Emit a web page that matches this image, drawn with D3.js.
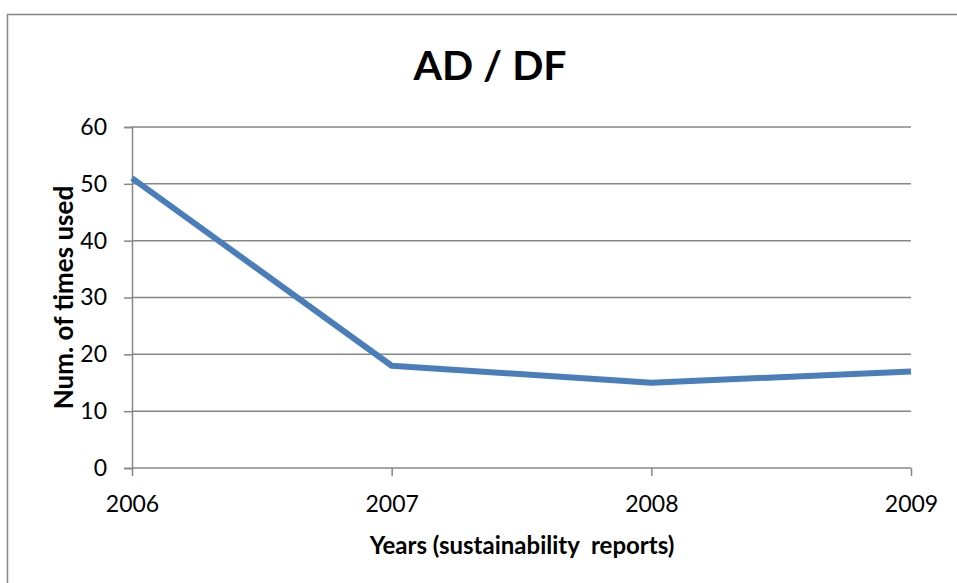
<!DOCTYPE html>
<html>
<head>
<meta charset="utf-8">
<script src="https://cdn.jsdelivr.net/npm/d3@7"></script>
<style>
  body { margin: 0; background: #fff; }
  svg { display: block; }
  svg text { font-family: Lato, "Open Sans", sans-serif; }
</style>
</head>
<body>
<div id="chart"></div>
<script>
// data
var years = [2006, 2007, 2008, 2009];
var timesUsed = [51, 18, 15, 17];
var yTicks = [0, 10, 20, 30, 40, 50, 60];

var W = 957, H = 583;
var margin = {top: 127, right: 46, bottom: 115, left: 132},
    width = W - margin.left - margin.right,
    height = H - margin.top - margin.bottom;

var svg = d3.select("#chart").append("svg")
    .attr("width", W)
    .attr("height", H);

// outer chart frame (cut off at right/bottom in the original)
svg.append("rect")
    .attr("x", 7.5).attr("y", 14.5)
    .attr("width", W + 10).attr("height", H + 10)
    .attr("fill", "none")
    .attr("stroke", "#868686")
    .attr("stroke-width", 1.5);

var g = svg.append("g")
    .attr("transform", "translate(" + margin.left + "," + margin.top + ")");

var x = d3.scalePoint().domain(years).range([0, width]);
var y = d3.scaleLinear().domain([0, 60]).range([height, 0]);

// gridlines
g.selectAll("line.grid")
    .data(yTicks.filter(function(d) { return d > 0; }))
    .enter().append("line")
    .attr("class", "grid")
    .attr("x1", 0).attr("x2", width)
    .attr("y1", function(d) { return y(d); })
    .attr("y2", function(d) { return y(d); })
    .attr("stroke", "#868686")
    .attr("stroke-width", 1.5);

// y axis
var yAxis = g.append("g")
    .call(d3.axisLeft(y).tickValues(yTicks).tickSize(8).tickPadding(17));
yAxis.select(".domain").attr("stroke", "#868686").attr("stroke-width", 1.5);
yAxis.selectAll(".tick line").attr("stroke", "#868686").attr("stroke-width", 1.5);
yAxis.selectAll("text").attr("font-size", 23).attr("fill", "#000");

// x axis
var xAxis = g.append("g")
    .attr("transform", "translate(0," + height + ")")
    .call(d3.axisBottom(x).tickSize(8).tickPadding(20).tickFormat(d3.format("d")));
xAxis.select(".domain").attr("stroke", "#868686").attr("stroke-width", 1.5)
    .attr("d", "M0,0H" + width);
xAxis.selectAll(".tick line").attr("stroke", "#868686").attr("stroke-width", 1.5);
xAxis.selectAll("text").attr("font-size", 23).attr("fill", "#000");

// series line
var line = d3.line()
    .x(function(d, i) { return x(years[i]); })
    .y(function(d) { return y(d); });

g.append("path")
    .datum(timesUsed)
    .attr("fill", "none")
    .attr("stroke", "#4a7ebb")
    .attr("stroke-width", 6)
    .attr("stroke-linejoin", "round")
    .attr("d", line);

// titles
svg.append("text")
    .attr("x", 490).attr("y", 80)
    .attr("text-anchor", "middle")
    .attr("font-size", 41).attr("font-weight", "bold")
    .text("AD / DF");

svg.append("text")
    .attr("transform", "translate(73," + (margin.top + height / 2) + ") rotate(-90)")
    .attr("text-anchor", "middle")
    .attr("font-size", 26).attr("font-weight", "bold")
    .text("Num. of times used");

svg.append("text")
    .attr("x", 522).attr("y", 554)
    .attr("text-anchor", "middle")
    .attr("font-size", 24).attr("font-weight", "bold")
    .attr("xml:space", "preserve")
    .text("Years (sustainability  reports)");
</script>
</body>
</html>
